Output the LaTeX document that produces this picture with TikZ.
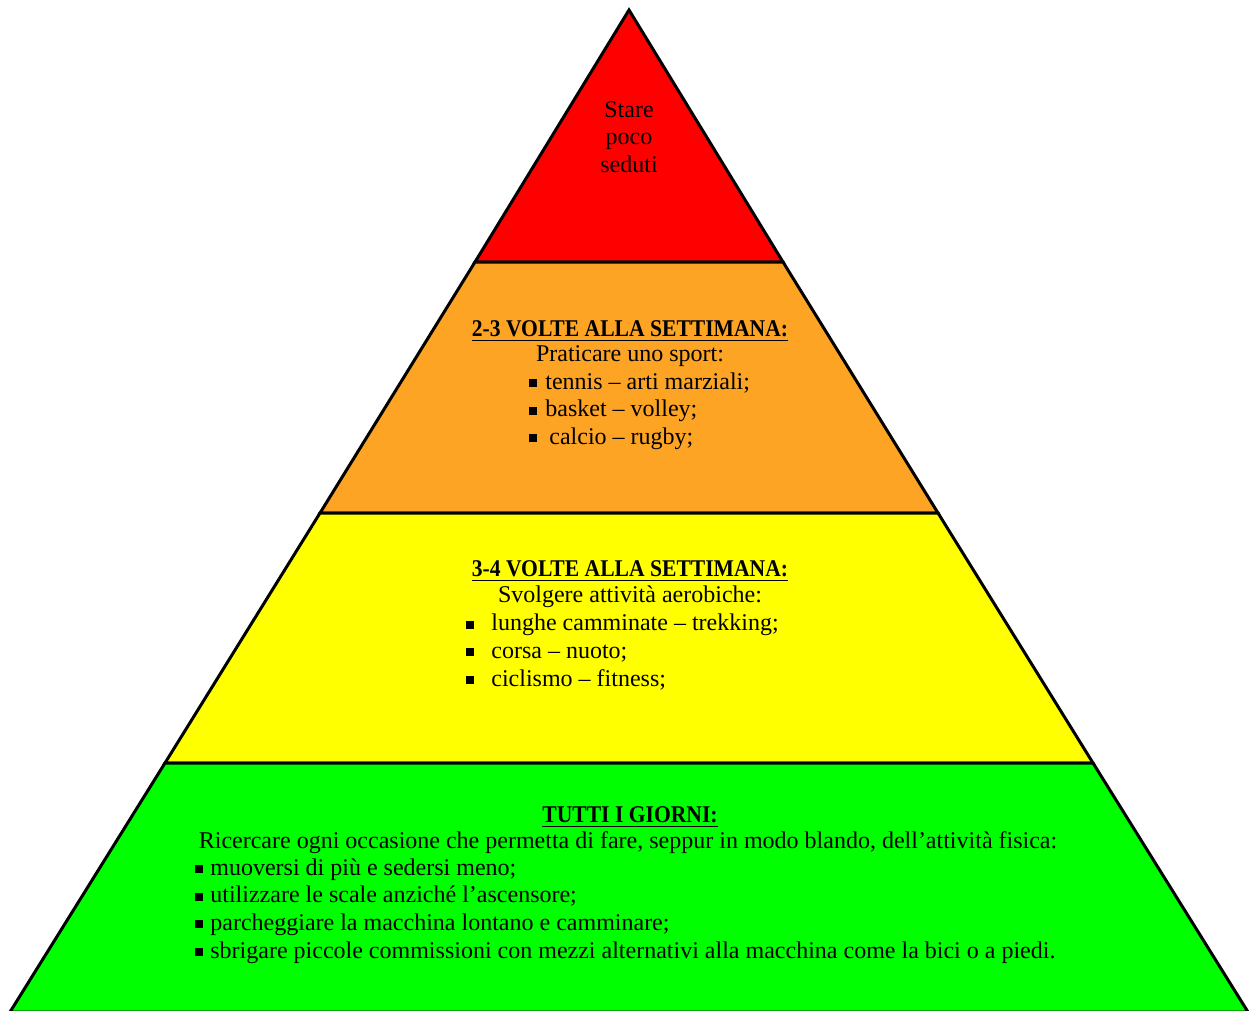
\documentclass[tikz,border=0pt]{standalone}
\usepackage{fontspec}
\setmainfont{Liberation Serif}
\newfontfamily\narrowfont[FakeStretch=0.9]{Liberation Serif}
\definecolor{levelTop}{RGB}{255, 0, 0}
\definecolor{levelTwo}{RGB}{253, 164, 36}
\definecolor{levelThree}{RGB}{255, 255, 0}
\definecolor{levelBase}{RGB}{0, 255, 0}
\usetikzlibrary{positioning}
\newcommand{\bul}{\rule[0.2ex]{4pt}{4pt}}
\tikzset{
  layer/.style={draw=black, line width=1.5pt, line join=miter},
  txt/.style={font=\fontsize{12}{13.8}\selectfont, inner sep=0pt},
  head/.style={txt, font=\fontsize{12}{13.8}\selectfont\narrowfont\bfseries},
  list/.style={txt, align=left, anchor=west}
}

\begin{document}
\begin{tikzpicture}[x=0.5pt, y=-0.5pt]
        \useasboundingbox (0,0) rectangle (1252,1011);
        % pyramid layers, top to bottom
        \filldraw[layer, fill=levelTop] (629,10) -- (783,262) -- (475,262) -- cycle;
        \filldraw[layer, fill=levelTwo] (475,262) -- (783,262) -- (938,513) -- (320,513) -- cycle;
        \filldraw[layer, fill=levelThree] (320,513) -- (938,513) -- (1093,763) -- (165,763) -- cycle;
        \filldraw[layer, fill=levelBase] (165,763) -- (1093,763) -- (1248,1012) -- (10,1012) -- cycle;

        % top
        \node[txt, align=center] (top) at (629,137) {Stare\\poco\\seduti};

        % 2-3 times a week
        \node[head] (sportHead) at (630,331) {\underline{2-3 VOLTE ALLA SETTIMANA:}};
        \node[txt] (sportSub) at (630,356) {Praticare uno sport:};
        \node[list] (sportList) at (529,411) {\bul\hspace{4pt}tennis -- arti marziali;\\
            \bul\hspace{4pt}basket -- volley;\\
            \bul\hspace{4pt}\,calcio -- rugby;};

        % 3-4 times a week
        \node[head] (aeroHead) at (630,571) {\underline{3-4 VOLTE ALLA SETTIMANA:}};
        \node[txt] (aeroSub) at (630,597) {Svolgere attività aerobiche:};
        \node[list] (aeroList) at (466,652) {\bul\hspace{8.5pt}lunghe camminate -- trekking;\\
            \bul\hspace{8.5pt}corsa -- nuoto;\\
            \bul\hspace{8.5pt}ciclismo -- fitness;};

        % every day
        \node[head] (dailyHead) at (630,817) {\underline{TUTTI I GIORNI:}};
        \node[txt] (dailySub) at (628,843) {Ricercare ogni occasione che permetta di fare, seppur in modo blando, dell’attività fisica:};
        \node[list] (dailyList) at (195,911) {\bul\hspace{3.5pt}muoversi di più e sedersi meno;\\
            \bul\hspace{3.5pt}utilizzare le scale anziché l’ascensore;\\
            \bul\hspace{3.5pt}parcheggiare la macchina lontano e camminare;\\
            \bul\hspace{3.5pt}sbrigare piccole commissioni con mezzi alternativi alla macchina come la bici o a piedi.};
    \end{tikzpicture}
\end{document}
